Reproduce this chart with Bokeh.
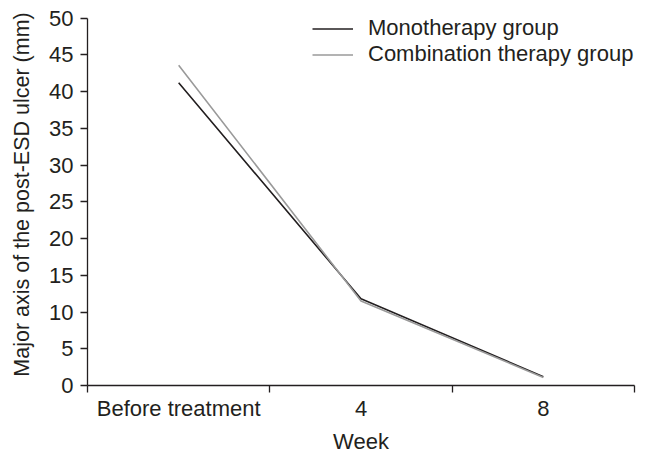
from bokeh.plotting import figure
from bokeh.models import Range1d, FixedTicker, Legend, LegendItem
from bokeh.embed import file_html
from bokeh.resources import INLINE

categories = ["Before treatment", "4", "8"]
monotherapy = [41.2, 11.8, 1.2]
combination = [43.6, 11.5, 1.1]
y_ticks = [0, 5, 10, 15, 20, 25, 30, 35, 40, 45, 50]

FONT = "Liberation Sans"
TXT = "#231f20"

xs = [i + 0.5 for i in range(len(categories))]

# a little headroom above 50 so the legend is not clipped; the axis stops at 50
p = figure(width=646, height=464, output_backend="svg", toolbar_location=None,
           x_range=Range1d(0, len(categories)), y_range=Range1d(0, 52),
           min_border_left=87, min_border_right=12, min_border_top=3, min_border_bottom=79)
p.outline_line_color = None
p.xgrid.visible = False
p.ygrid.visible = False
p.background_fill_color = "white"
p.border_fill_color = "white"

r1 = p.line(xs, monotherapy, line_color="#231f20", line_width=1.6)
r2 = p.line(xs, combination, line_color="#9a9a9a", line_width=1.6)

xa = p.xaxis[0]
xa.ticker = FixedTicker(ticks=xs, minor_ticks=list(range(len(categories) + 1)))
xa.major_label_overrides = {x: c for x, c in zip(xs, categories)}
xa.major_tick_line_color = None
xa.minor_tick_in = 0
xa.minor_tick_out = 7
xa.minor_tick_line_color = TXT
xa.minor_tick_line_width = 1.3
xa.axis_label = "Week"
xa.axis_label_standoff = 5
xa.major_label_standoff = 3

ya = p.yaxis[0]
ya.ticker = FixedTicker(ticks=y_ticks)
ya.bounds = (y_ticks[0], y_ticks[-1])
ya.minor_tick_line_color = None
ya.major_tick_in = 0
ya.major_tick_out = 7
ya.axis_label = "Major axis of the post-ESD ulcer (mm)"
ya.axis_label_standoff = 12
ya.major_label_standoff = 7

for ax in (xa, ya):
    ax.axis_line_color = TXT
    ax.axis_line_width = 1.3
    ax.major_tick_line_width = 1.3
    if ax is ya:
        ax.major_tick_line_color = TXT
    ax.major_label_text_font = FONT
    ax.major_label_text_font_size = "22px"
    ax.major_label_text_color = TXT
    ax.axis_label_text_font = FONT
    ax.axis_label_text_font_size = "22px"
    ax.axis_label_text_font_style = "normal"
    ax.axis_label_text_color = TXT
ya.axis_label_text_font_size = "21.5px"

legend = Legend(items=[LegendItem(label="Monotherapy group", renderers=[r1]),
                       LegendItem(label="Combination therapy group", renderers=[r2])],
                location=(225, 318), padding=0, spacing=0, margin=0,
                glyph_width=41, glyph_height=25, label_height=25, label_standoff=15,
                border_line_color=None, background_fill_alpha=0,
                label_text_font=FONT, label_text_font_size="22px", label_text_color=TXT)
p.add_layout(legend)

open("out.html", "w").write(file_html(p, INLINE))
